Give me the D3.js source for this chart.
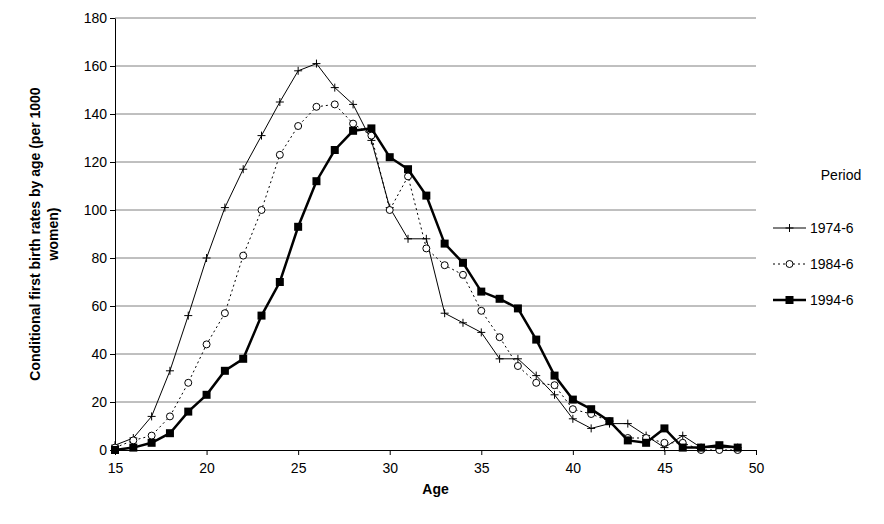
<!DOCTYPE html>
<html><head><meta charset="utf-8">
<script src="https://cdn.jsdelivr.net/npm/d3@7"></script>
<style>body{margin:0;background:#fff;font-family:Arial,"Liberation Sans",sans-serif;}</style>
</head><body>
<svg id="c" width="884" height="524"></svg>
<script>
const ages = d3.range(15, 50);
const s1974 = [2,5,14,33,56,80,101,117,131,145,158,161,151,144,129,101,88,88,57,53,49,38,38,31,23,13,9,11,11,6,1,6,1,1,1];
const s1984 = [1,4,6,14,28,44,57,81,100,123,135,143,144,136,131,100,114,84,77,73,58,47,35,28,27,17,15,12,5,5,3,3,0,0,0];
const s1994 = [0,1,3,7,16,23,33,38,56,70,93,112,125,133,134,122,117,106,86,78,66,63,59,46,31,21,17,12,4,3,9,1,1,2,1];
const yTicks = d3.range(0, 181, 20);
const xTicks = d3.range(15, 51, 5);

const svg = d3.select("#c");
const x = d3.scaleLinear().domain([15, 50]).range([115, 756]);
const y = d3.scaleLinear().domain([0, 180]).range([450, 18]);

// gridlines
svg.append("g").selectAll("line").data(yTicks.slice(1)).enter().append("line")
  .attr("x1", x(15)).attr("x2", x(50)).attr("y1", d => y(d)).attr("y2", d => y(d))
  .attr("stroke", "#808080").attr("stroke-width", 1);

const xa = svg.append("g").attr("transform", `translate(0,${y(0)})`)
  .call(d3.axisBottom(x).tickValues(xTicks).tickSize(5).tickSizeOuter(0));
const ya = svg.append("g").attr("transform", `translate(${x(15)},0)`)
  .call(d3.axisLeft(y).tickValues(yTicks).tickSize(5).tickSizeOuter(0));
[xa, ya].forEach(a => {
  a.selectAll("path,line").attr("stroke", "#000");
  a.selectAll("text").attr("font-size", 14).attr("fill", "#000").attr("font-family", "Arial, Liberation Sans");
});
xa.selectAll("text").attr("dy", "1.1em");

svg.append("text").attr("x", x(32.5)).attr("y", 494).attr("text-anchor", "middle")
  .attr("font-size", 14).attr("font-weight", "bold").text("Age");
const yl = svg.append("text").attr("transform", "translate(40,234) rotate(-90)")
  .attr("text-anchor", "middle").attr("font-size", 14).attr("font-weight", "bold");
yl.append("tspan").attr("x", 0).attr("dy", 0).text("Conditional first birth rates by age (per 1000");
yl.append("tspan").attr("x", 0).attr("dy", 18).text("women)");

const series = [
  { name: "1974-6", data: s1974, width: 1, dash: null, marker: "plus" },
  { name: "1984-6", data: s1984, width: 1, dash: "2,3", marker: "circle" },
  { name: "1994-6", data: s1994, width: 2.5, dash: null, marker: "square" }
];
const line = d3.line().x((d, i) => x(ages[i])).y(d => y(d));

function marker(g, type, cx, cy) {
  if (type === "plus") {
    g.append("path").attr("d", `M${cx-4},${cy}H${cx+4}M${cx},${cy-4}V${cy+4}`).attr("stroke", "#000").attr("stroke-width", 1);
  } else if (type === "circle") {
    g.append("circle").attr("cx", cx).attr("cy", cy).attr("r", 3.5).attr("fill", "#fff").attr("stroke", "#000");
  } else {
    g.append("rect").attr("x", cx-4).attr("y", cy-4).attr("width", 8).attr("height", 8).attr("fill", "#000");
  }
}

series.forEach(s => {
  const g = svg.append("g");
  g.append("path").attr("d", line(s.data)).attr("fill", "none").attr("stroke", "#000")
    .attr("stroke-width", s.width).attr("stroke-dasharray", s.dash);
  s.data.forEach((d, i) => marker(g, s.marker, x(ages[i]), y(d)));
});

// legend
svg.append("text").attr("x", 841).attr("y", 180).attr("text-anchor", "middle").attr("font-size", 14).text("Period");
series.forEach((s, i) => {
  const ly = 228 + i * 36;
  const g = svg.append("g");
  g.append("line").attr("x1", 773).attr("x2", 806).attr("y1", ly).attr("y2", ly)
    .attr("stroke", "#000").attr("stroke-width", s.width).attr("stroke-dasharray", s.dash);
  marker(g, s.marker, 789.5, ly);
  g.append("text").attr("x", 810).attr("y", ly + 5).attr("font-size", 14).text(s.name);
});
</script>
</body></html>
